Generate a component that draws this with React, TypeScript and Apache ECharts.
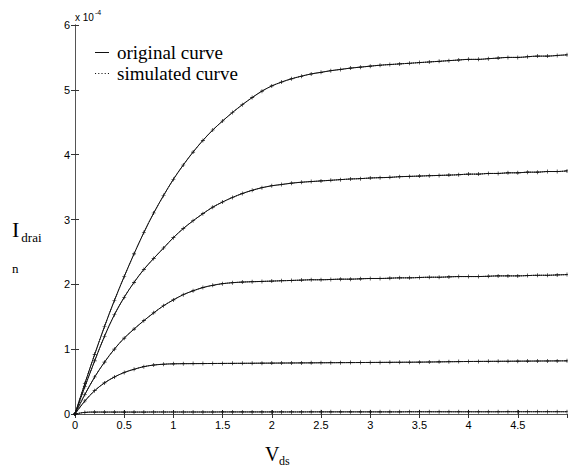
import React, { useEffect, useRef } from "react";
import * as echarts from "echarts";

// Drain-source voltage samples (V)
const vds = [
  0, 0.1, 0.2, 0.3, 0.4, 0.5, 0.6, 0.7, 0.8, 0.9,
  1.0, 1.1, 1.2, 1.3, 1.4, 1.5, 1.6, 1.7, 1.8, 1.9,
  2.0, 2.1, 2.2, 2.3, 2.4, 2.5, 2.6, 2.7, 2.8, 2.9,
  3.0, 3.1, 3.2, 3.3, 3.4, 3.5, 3.6, 3.7, 3.8, 3.9,
  4.0, 4.1, 4.2, 4.3, 4.4, 4.5, 4.6, 4.7, 4.8, 4.9, 5.0,
];

// Drain current, in units of 1e-4
const curve1 = [
  0, 0.47, 0.92, 1.35, 1.75, 2.12, 2.47, 2.8, 3.1, 3.37,
  3.62, 3.84, 4.04, 4.22, 4.38, 4.52, 4.65, 4.77, 4.88, 4.98,
  5.06, 5.12, 5.17, 5.21, 5.245, 5.27, 5.295, 5.315, 5.335, 5.35,
  5.365, 5.38, 5.39, 5.4, 5.41, 5.42, 5.43, 5.44, 5.45, 5.46,
  5.47, 5.47, 5.48, 5.49, 5.5, 5.5, 5.51, 5.52, 5.52, 5.53, 5.54,
];
const curve2 = [
  0, 0.42, 0.82, 1.2, 1.53, 1.8, 2.03, 2.23, 2.4, 2.56,
  2.72, 2.86, 2.98, 3.09, 3.19, 3.27, 3.34, 3.4, 3.45, 3.49,
  3.52, 3.54, 3.56, 3.575, 3.585, 3.595, 3.605, 3.615, 3.625, 3.63,
  3.64, 3.645, 3.65, 3.66, 3.665, 3.67, 3.675, 3.68, 3.685, 3.69,
  3.7, 3.7, 3.71, 3.71, 3.72, 3.72, 3.73, 3.73, 3.74, 3.74, 3.75,
];
const curve3 = [
  0, 0.3, 0.57, 0.8, 1.0, 1.17, 1.31, 1.44, 1.56, 1.67,
  1.76, 1.84, 1.9, 1.95, 1.985, 2.01, 2.025, 2.035, 2.04, 2.045,
  2.05, 2.055, 2.06, 2.065, 2.07, 2.07, 2.075, 2.08, 2.08, 2.085,
  2.09, 2.09, 2.095, 2.1, 2.1, 2.105, 2.11, 2.11, 2.115, 2.12,
  2.12, 2.12, 2.125, 2.13, 2.13, 2.13, 2.135, 2.14, 2.14, 2.145, 2.15,
];
const curve4 = [
  0, 0.2, 0.36, 0.48, 0.57, 0.64, 0.69, 0.73, 0.755, 0.768,
  0.774, 0.776, 0.777, 0.778, 0.779, 0.78, 0.781, 0.782, 0.783, 0.784,
  0.785, 0.786, 0.787, 0.788, 0.789, 0.79, 0.791, 0.792, 0.793, 0.794,
  0.795, 0.796, 0.797, 0.798, 0.799, 0.8, 0.802, 0.804, 0.806, 0.808,
  0.81, 0.811, 0.812, 0.813, 0.814, 0.815, 0.816, 0.817, 0.818, 0.819, 0.82,
];
const curve5 = [
  0, 0.025, 0.03, 0.03, 0.03, 0.03, 0.03, 0.03, 0.031, 0.031,
  0.031, 0.031, 0.031, 0.031, 0.031, 0.032, 0.032, 0.032, 0.032, 0.032,
  0.032, 0.032, 0.032, 0.032, 0.033, 0.033, 0.033, 0.033, 0.033, 0.033,
  0.033, 0.033, 0.033, 0.033, 0.034, 0.034, 0.034, 0.034, 0.034, 0.034,
  0.034, 0.034, 0.034, 0.034, 0.035, 0.035, 0.035, 0.035, 0.035, 0.035, 0.035,
];

const curves = [curve1, curve2, curve3, curve4, curve5];
const legendNames = ["original curve", "simulated curve"];
const yTicks = [0, 1, 2, 3, 4, 5, 6];

const SERIF = "'Liberation Serif', 'Times New Roman', serif";
const SANS = "'Liberation Sans', Arial, sans-serif";

const CROSS =
  "path://M0.42,0h0.16v0.42h0.42v0.16h-0.42v0.42h-0.16v-0.42h-0.42v-0.16h0.42z";

export default function App() {
  const ref = useRef<HTMLDivElement>(null);

  useEffect(() => {
    document.body.style.margin = "0";
    if (!ref.current) return;
    const chart = echarts.init(ref.current, null, { renderer: "svg" });

    const toPairs = (c: number[]) => vds.map((v, i) => [v, c[i]]);

    const series: any[] = [];
    curves.forEach((c) => {
      series.push({
        name: legendNames[0],
        type: "line",
        data: toPairs(c),
        smooth: 0.35,
        symbol: "none",
        lineStyle: { color: "#111", width: 1 },
        itemStyle: { color: "#111" },
        z: 2,
      });
      series.push({
        name: legendNames[1],
        type: "line",
        data: toPairs(c),
        smooth: 0.35,
        symbol: CROSS,
        symbolSize: 4,
        lineStyle: { color: "#111", width: 1, type: "dotted" },
        itemStyle: { color: "#111" },
        z: 3,
      });
    });

    const axisLine = { show: true, lineStyle: { color: "#555", width: 1 } };
    const tickStyle = { inside: true, length: 4, lineStyle: { color: "#333" } };
    const labelFont = {
      fontFamily: SANS,
      fontSize: 11,
      color: "#000",
    };

    chart.setOption({
      animation: false,
      backgroundColor: "#fff",
      grid: { left: 75, right: 1, top: 25, bottom: 56 },
      legend: {
        orient: "vertical",
        left: 90,
        top: 38,
        itemGap: 2,
        itemWidth: 14,
        itemHeight: 2,
        textStyle: {
          fontFamily: SERIF,
          fontSize: 19,
          color: "#000",
          padding: [0, 0, 0, 3],
        },
        data: [
          { name: legendNames[0], icon: "path://M0,0h14v1h-14z" },
          {
            name: legendNames[1],
            icon:
              "path://M0,0h1v1h-1zM3,0h1v1h-1zM6,0h1v1h-1zM9,0h1v1h-1zM12,0h1v1h-1z",
          },
        ],
      },
      xAxis: [
        {
          type: "value",
          min: 0,
          max: 5,
          interval: 0.5,
          axisLine,
          axisTick: tickStyle,
          splitLine: { show: false },
          axisLabel: { ...labelFont, margin: 5, showMaxLabel: false },
        },
        {
          type: "value",
          position: "top",
          min: 0,
          max: 5,
          interval: 0.5,
          axisLine,
          axisTick: tickStyle,
          splitLine: { show: false },
          axisLabel: { show: false },
        },
      ],
      yAxis: [
        {
          type: "value",
          min: yTicks[0],
          max: yTicks[yTicks.length - 1],
          interval: 1,
          axisLine,
          axisTick: tickStyle,
          splitLine: { show: false },
          axisLabel: { ...labelFont, margin: 5 },
        },
        {
          type: "value",
          position: "right",
          min: yTicks[0],
          max: yTicks[yTicks.length - 1],
          interval: 1,
          axisLine,
          axisTick: tickStyle,
          splitLine: { show: false },
          axisLabel: { show: false },
        },
      ],
      graphic: [
        {
          type: "text",
          left: 75,
          top: 9,
          style: {
            text: "{a|x 10}{b|-4}",
            rich: {
              a: { fontFamily: SANS, fontSize: 10, color: "#000", padding: [6, 0, 0, 0] },
              b: { fontFamily: SANS, fontSize: 7, color: "#000", padding: [0, 0, 4, 1] },
            },
          },
        },
        {
          type: "text",
          left: 12,
          top: 218,
          style: {
            text: "{a|I}{b|drai}",
            rich: {
              a: { fontFamily: SERIF, fontSize: 22, color: "#000" },
              b: { fontFamily: SERIF, fontSize: 13, color: "#000", padding: [16, 0, 0, 2] },
            },
          },
        },
        {
          type: "text",
          left: 12,
          top: 262,
          style: {
            text: "n",
            fontFamily: SERIF,
            fontSize: 13,
            fill: "#000",
          },
        },
        {
          type: "text",
          left: 265,
          top: 444,
          style: {
            text: "V",
            fontFamily: SERIF,
            fontSize: 20,
            fill: "#000",
          },
        },
        {
          type: "text",
          left: 279,
          top: 455,
          style: {
            text: "ds",
            fontFamily: SERIF,
            fontSize: 12,
            fill: "#000",
          },
        },
      ],
      series,
    });

    return () => chart.dispose();
  }, []);

  return <div ref={ref} style={{ width: 568, height: 470 }} />;
}
